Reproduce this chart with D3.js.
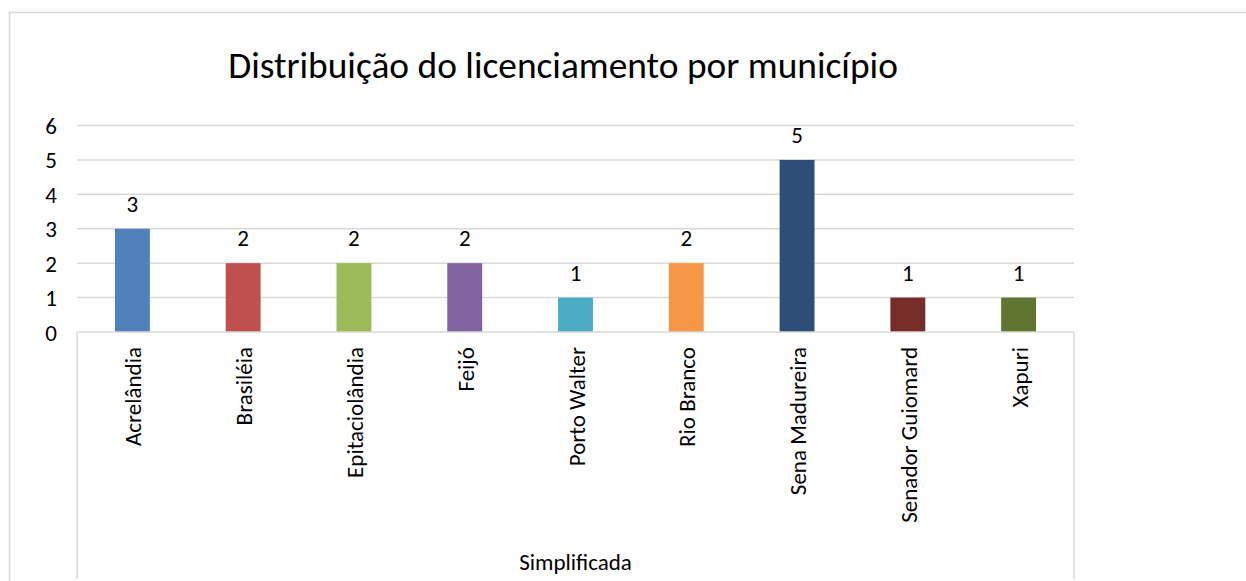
<!DOCTYPE html>
<html>
<head>
<meta charset="utf-8">
<script src="https://cdn.jsdelivr.net/npm/d3@7/dist/d3.min.js"></script>
<style>
  html, body { margin: 0; padding: 0; background: #fff; }
  svg { display: block; }
  text { font-family: Calibri, Carlito, Lato, "Open Sans", sans-serif; fill: #000; }
</style>
</head>
<body>
<svg id="chart" width="1246" height="581"></svg>
<script>
const title = "Distribuição do licenciamento por município";
const groupLabel = "Simplificada";
const categories = ["Acrelândia", "Brasiléia", "Epitaciolândia", "Feijó", "Porto Walter", "Rio Branco", "Sena Madureira", "Senador Guiomard", "Xapuri"];
const values = [3, 2, 2, 2, 1, 2, 5, 1, 1];
const colors = ["#4F81BD", "#C0504D", "#9BBB59", "#8064A2", "#4BACC6", "#F79646", "#2C4D75", "#772C2A", "#5F7530"];
const yTicks = [0, 1, 2, 3, 4, 5, 6];

const svg = d3.select("#chart");
const plotLeft = 77, plotRight = 1074, plotTop = 125.5, plotBottom = 332;
const fs = 23;

// outer chart border
svg.append("path")
  .attr("d", "M9.5,590 V12.5 H1250")
  .attr("fill", "none").attr("stroke", "#d9d9d9").attr("stroke-width", 1.5);

const x = d3.scaleBand().domain(categories).range([plotLeft, plotRight]).paddingInner(0).paddingOuter(0);
const y = d3.scaleLinear().domain([0, 6]).range([plotBottom, plotTop]);

// gridlines
svg.append("g").selectAll("line").data(yTicks.filter(d => d > 0)).join("line")
  .attr("x1", plotLeft).attr("x2", plotRight)
  .attr("y1", d => y(d)).attr("y2", d => y(d))
  .attr("stroke", "#d9d9d9").attr("stroke-width", 1.5);

// y axis labels
const yAxis = d3.axisLeft(y).tickValues(yTicks).tickFormat(d3.format("d")).tickSize(0).tickPadding(0);
const gy = svg.append("g").attr("transform", `translate(${plotLeft - 20},0)`).call(yAxis);
gy.select(".domain").remove();
gy.attr("font-size", null).attr("font-family", null);
gy.selectAll("text").attr("font-size", fs).attr("fill", "#000").attr("dy", "0.35em");

// bars
const barW = x.bandwidth() * 0.315;
svg.append("g").selectAll("rect").data(values).join("rect")
  .attr("x", (d, i) => x(categories[i]) + x.bandwidth() / 2 - barW / 2)
  .attr("width", barW)
  .attr("y", d => y(d))
  .attr("height", d => y(0) - y(d))
  .attr("fill", (d, i) => colors[i]);

// data labels
svg.append("g").selectAll("text").data(values).join("text")
  .attr("x", (d, i) => x(categories[i]) + x.bandwidth() / 2)
  .attr("y", d => y(d) - 17)
  .attr("text-anchor", "middle")
  .attr("font-size", fs)
  .text(d => d);

// category axis lines
const axisColor = "#d9d9d9";
svg.append("line").attr("x1", plotLeft).attr("x2", plotRight).attr("y1", plotBottom).attr("y2", plotBottom)
  .attr("stroke", axisColor).attr("stroke-width", 1.5);
svg.append("line").attr("x1", plotLeft).attr("x2", plotLeft).attr("y1", plotBottom).attr("y2", 579)
  .attr("stroke", axisColor).attr("stroke-width", 1.5);
svg.append("line").attr("x1", plotRight).attr("x2", plotRight).attr("y1", plotBottom).attr("y2", 579)
  .attr("stroke", axisColor).attr("stroke-width", 1.5);

// category labels (rotated)
svg.append("g").selectAll("text").data(categories).join("text")
  .attr("transform", d => `translate(${x(d) + x.bandwidth() / 2 + 9},347) rotate(-90)`)
  .attr("text-anchor", "end")
  .attr("font-size", fs)
  .text(d => d);

// group label
svg.append("text")
  .attr("x", (plotLeft + plotRight) / 2).attr("y", 570)
  .attr("text-anchor", "middle").attr("font-size", fs)
  .text(groupLabel);

// title
svg.append("text")
  .attr("x", 563).attr("y", 78)
  .attr("text-anchor", "middle").attr("font-size", 37.4)
  .text(title);
</script>
</body>
</html>
